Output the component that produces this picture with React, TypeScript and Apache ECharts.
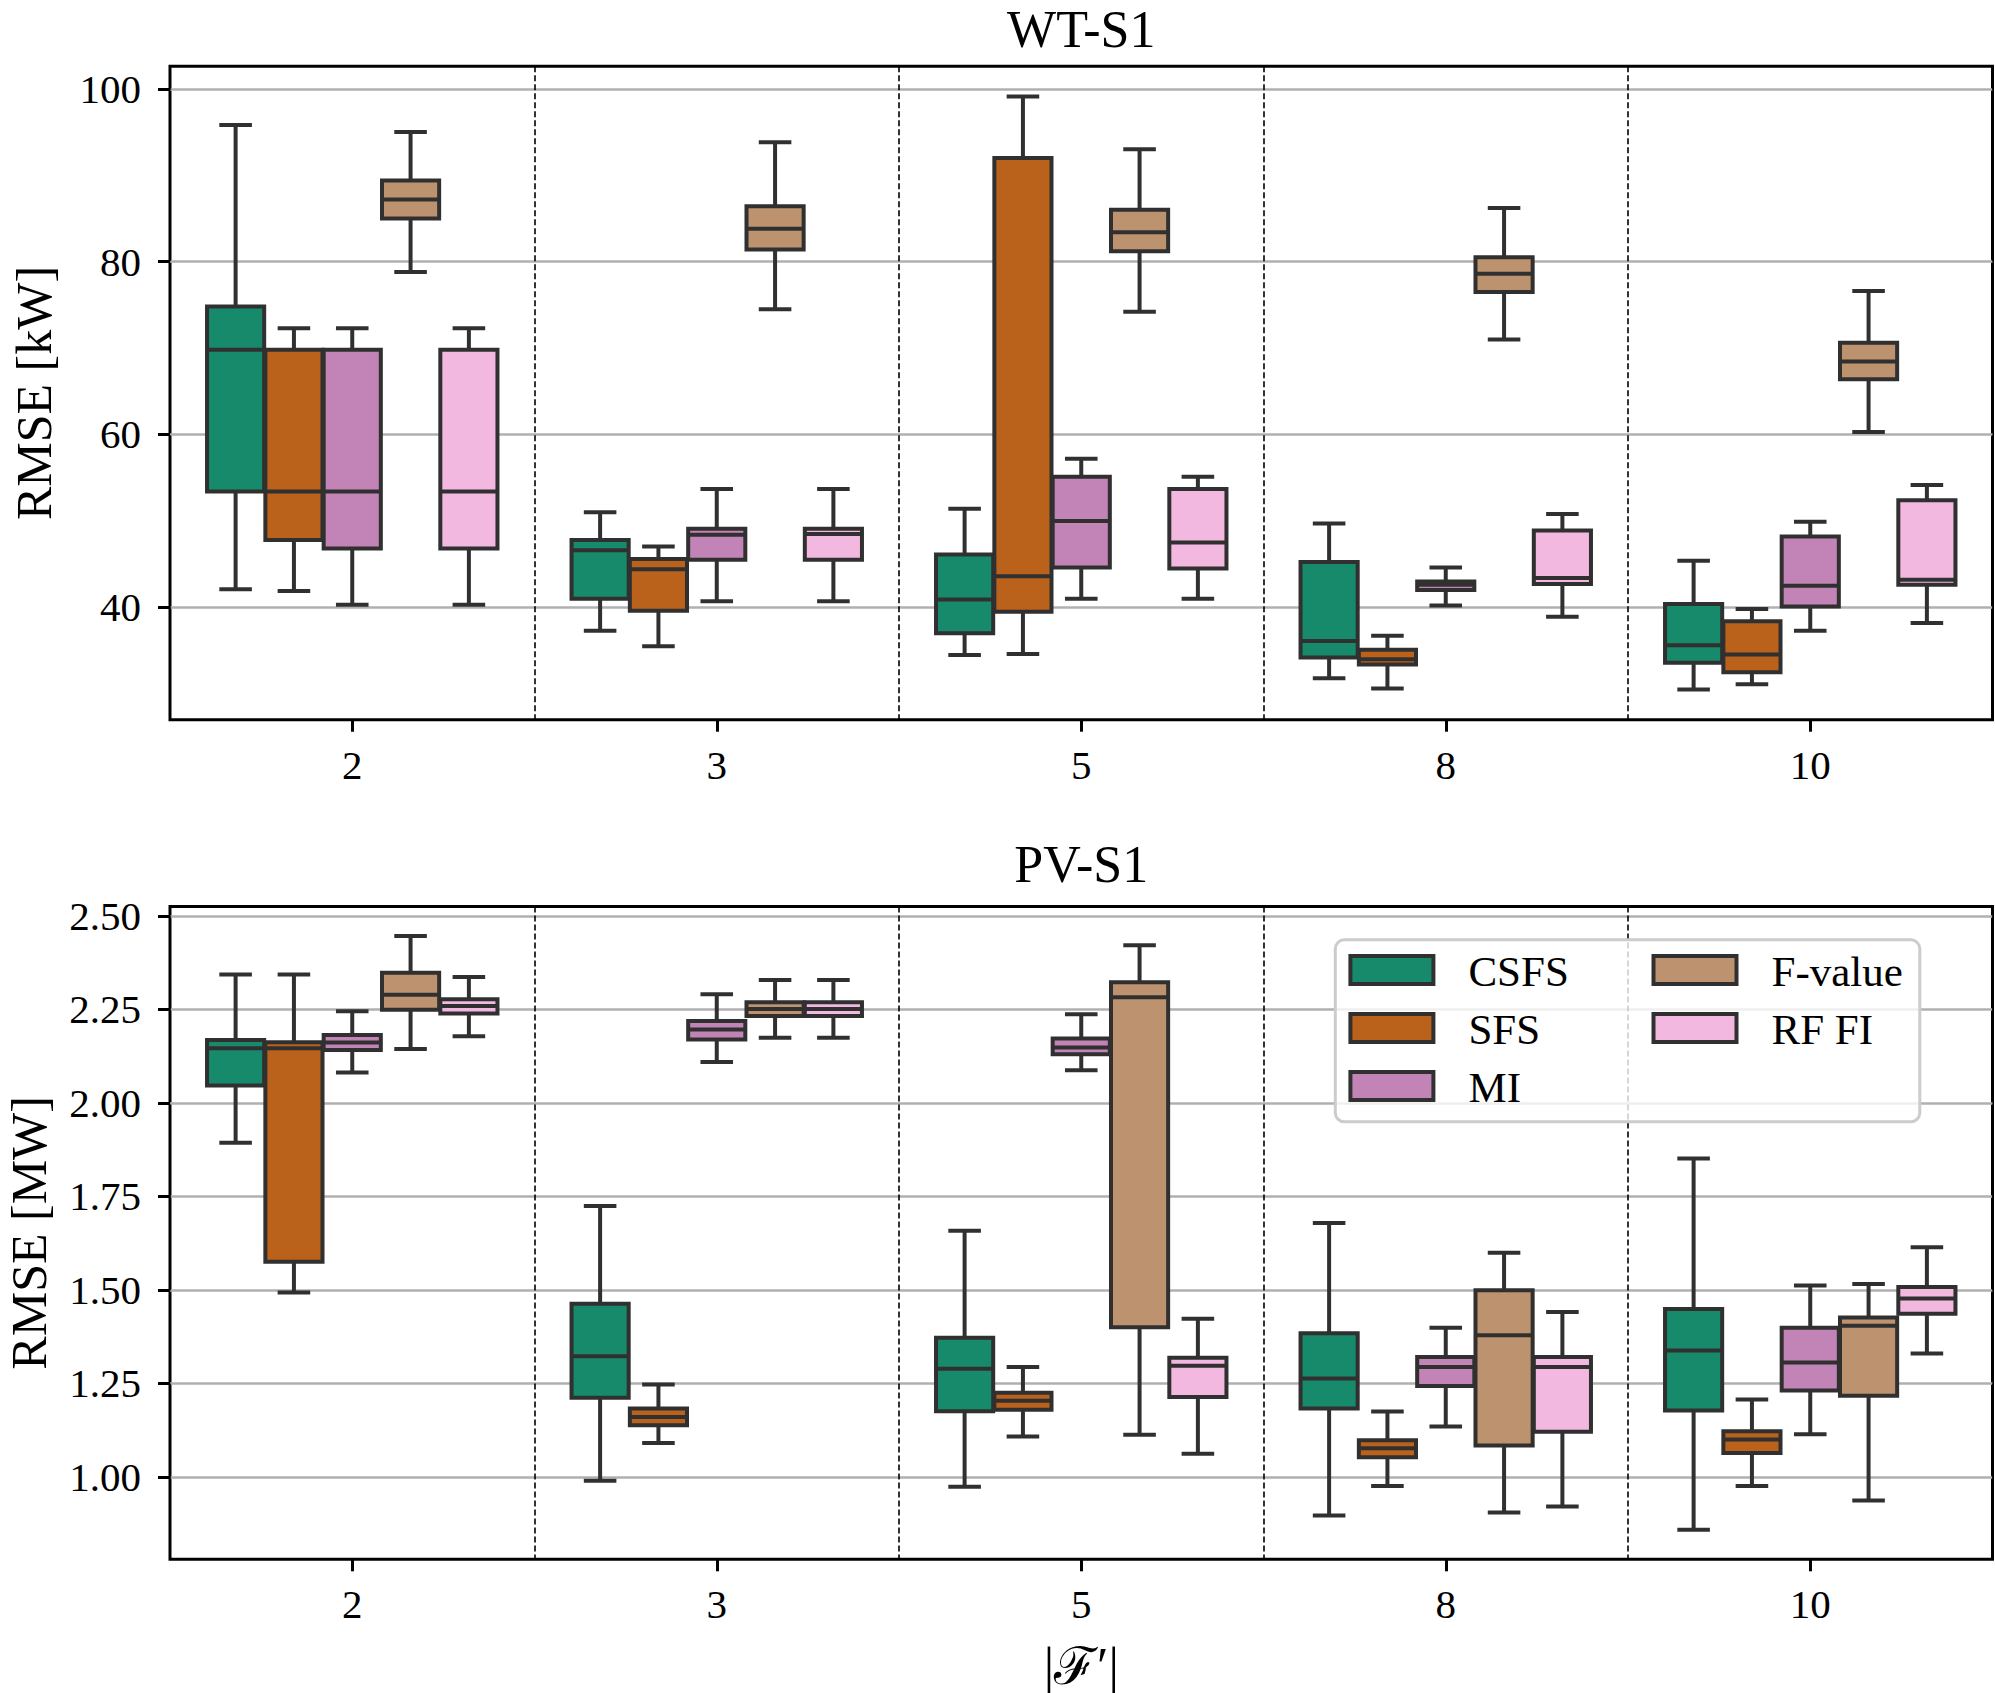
import React, { useEffect, useRef } from "react";
import * as echarts from "echarts";

// Number of selected features |F'|
const CATEGORIES = ["2", "3", "5", "8", "10"];
const METHODS = ["CSFS", "SFS", "MI", "F-value", "RF FI"];

// Box statistics per category: [min, Q1, median, Q3, max]
// WT-S1, RMSE in kW
const WT_CSFS = [
  [42.1, 53.4, 69.8, 74.8, 95.8],
  [37.3, 41.0, 46.6, 47.8, 51.0],
  [34.5, 37.0, 40.9, 46.1, 51.4],
  [31.8, 34.2, 36.1, 45.25, 49.7],
  [30.5, 33.6, 35.6, 40.4, 45.4],
];
const WT_SFS = [
  [41.9, 47.8, 53.4, 69.8, 72.3],
  [35.5, 39.6, 44.4, 45.6, 47.05],
  [34.6, 39.5, 43.6, 92.0, 99.1],
  [30.6, 33.4, 34.0, 35.1, 36.7],
  [31.1, 32.5, 34.55, 38.4, 39.8],
];
const WT_MI = [
  [40.3, 46.8, 53.4, 69.8, 72.3],
  [40.7, 45.5, 48.4, 49.1, 53.7],
  [41.0, 44.6, 50.0, 55.1, 57.2],
  [40.2, 42.0, 42.6, 43.0, 44.6],
  [37.3, 40.1, 42.5, 48.2, 49.9],
];
const WT_FVALUE = [
  [78.8, 85.0, 87.2, 89.4, 95.0],
  [74.5, 81.4, 83.8, 86.4, 93.8],
  [74.2, 81.2, 83.4, 86.0, 93.0],
  [71.0, 76.5, 78.6, 80.5, 86.2],
  [60.3, 66.4, 68.45, 70.6, 76.6],
];
const WT_RFFI = [
  [40.3, 46.8, 53.4, 69.8, 72.3],
  [40.7, 45.5, 48.5, 49.1, 53.7],
  [41.0, 44.5, 47.5, 53.7, 55.1],
  [38.9, 42.7, 43.4, 48.9, 50.8],
  [38.2, 42.6, 43.2, 52.4, 54.15],
];

// PV-S1, RMSE in MW
const PV_CSFS = [
  [1.893, 2.046, 2.146, 2.168, 2.343],
  [0.99, 1.212, 1.323, 1.463, 1.724],
  [0.974, 1.176, 1.289, 1.372, 1.658],
  [0.897, 1.183, 1.263, 1.384, 1.679],
  [0.859, 1.178, 1.338, 1.449, 1.851],
];
const PV_SFS = [
  [1.493, 1.575, 2.146, 2.162, 2.343],
  [1.091, 1.138, 1.16, 1.183, 1.247],
  [1.108, 1.18, 1.204, 1.225, 1.294],
  [0.976, 1.053, 1.077, 1.098, 1.175],
  [0.976, 1.064, 1.1, 1.122, 1.207],
];
const PV_MI = [
  [2.081, 2.141, 2.161, 2.181, 2.245],
  [2.109, 2.169, 2.196, 2.219, 2.29],
  [2.087, 2.13, 2.148, 2.172, 2.237],
  [1.135, 1.243, 1.294, 1.321, 1.399],
  [1.114, 1.231, 1.306, 1.399, 1.512],
];
const PV_FVALUE = [
  [2.144, 2.249, 2.289, 2.348, 2.446],
  [2.174, 2.232, 2.251, 2.269, 2.328],
  [1.113, 1.4, 2.282, 2.322, 2.421],
  [0.905, 1.084, 1.379, 1.499, 1.599],
  [0.937, 1.217, 1.404, 1.426, 1.516],
];
const PV_RFFI = [
  [2.178, 2.239, 2.259, 2.277, 2.336],
  [2.174, 2.232, 2.251, 2.269, 2.328],
  [1.062, 1.214, 1.297, 1.319, 1.423],
  [0.921, 1.121, 1.294, 1.321, 1.441],
  [1.33, 1.436, 1.477, 1.508, 1.614],
];

const WT_TICKS = [40, 60, 80, 100];
const PV_TICKS = [1.0, 1.25, 1.5, 1.75, 2.0, 2.25, 2.5];

const PANELS = [
  {
    title: "WT-S1",
    yName: "RMSE [kW]",
    stats: [WT_CSFS, WT_SFS, WT_MI, WT_FVALUE, WT_RFFI],
    yMin: 27.0,
    yMax: 102.6,
    ticks: WT_TICKS,
    decimals: 0,
  },
  {
    title: "PV-S1",
    yName: "RMSE [MW]",
    stats: [PV_CSFS, PV_SFS, PV_MI, PV_FVALUE, PV_RFFI],
    yMin: 0.78,
    yMax: 2.525,
    ticks: PV_TICKS,
    decimals: 2,
  },
];

// Layout and styling
const W = 1995;
const H = 1693;
const FONT = "'Liberation Serif', 'DejaVu Serif', serif";
const COLORS = ["#168a6a", "#ba611b", "#c283b6", "#bd926e", "#f2b8e0"];
const EDGE = "#303030";
const LW = 4;
const GRID_LEFT = 170;
const GRID_WIDTH = 1822.5;
const LAYOUT = [
  { top: 66.3, height: 653.4, titleY: 29, yNameX: 34 },
  { top: 906.4, height: 652.9, titleY: 864, yNameX: 29 },
];

function makeRenderItem(hue: number) {
  const nHue = METHODS.length;
  return (params: any, api: any) => {
    const ci = api.value(0);
    const band = api.size([1, 0])[0];
    const slot = (band * 0.8) / nHue;
    const w = slot * 0.98;
    const med = api.coord([ci, api.value(3)]);
    const cx = med[0] + (hue - (nHue - 1) / 2) * slot;
    const yMin = api.coord([ci, api.value(1)])[1];
    const yQ1 = api.coord([ci, api.value(2)])[1];
    const yQ3 = api.coord([ci, api.value(4)])[1];
    const yMax = api.coord([ci, api.value(5)])[1];
    const capHalf = w / 4;
    const line = (x1: number, y1: number, x2: number, y2: number, cap = "butt") => ({
      type: "line",
      shape: { x1, y1, x2, y2 },
      style: { stroke: EDGE, lineWidth: LW, lineCap: cap },
    });
    return {
      type: "group",
      children: [
        line(cx, yQ3, cx, yMax),
        line(cx, yQ1, cx, yMin),
        line(cx - capHalf, yMax, cx + capHalf, yMax, "square"),
        line(cx - capHalf, yMin, cx + capHalf, yMin, "square"),
        {
          type: "rect",
          shape: { x: cx - w / 2, y: yQ3, width: w, height: yQ1 - yQ3 },
          style: { fill: COLORS[hue], stroke: EDGE, lineWidth: LW },
        },
        line(cx - w / 2, med[1], cx + w / 2, med[1]),
      ],
    };
  };
}

function buildOption() {
  const grids: any[] = [];
  const xAxes: any[] = [];
  const yAxes: any[] = [];
  const series: any[] = [];
  const graphics: any[] = [];

  PANELS.forEach((p, pi) => {
    const L = LAYOUT[pi];
    grids.push({
      left: GRID_LEFT,
      top: L.top,
      width: GRID_WIDTH,
      height: L.height,
      show: true,
      borderColor: "#000",
      borderWidth: 3,
      backgroundColor: "transparent",
      containLabel: false,
      outerBoundsMode: "none",
    });
    xAxes.push({
      type: "category",
      gridIndex: pi,
      data: CATEGORIES,
      boundaryGap: true,
      axisLine: { show: false },
      axisTick: {
        show: true,
        alignWithLabel: true,
        length: 12,
        lineStyle: { color: "#000", width: 3 },
      },
      axisLabel: {
        show: true,
        interval: 0,
        margin: 45,
        verticalAlign: "middle",
        fontSize: 41,
        fontFamily: FONT,
        color: "#000",
      },
      splitLine: {
        show: true,
        interval: 0,
        lineStyle: { color: "#000", width: 1.6, type: [6, 3] },
      },
    });
    yAxes.push({
      type: "value",
      gridIndex: pi,
      min: p.yMin,
      max: p.yMax,
      axisLine: { show: false },
      axisTick: {
        show: true,
        length: 12,
        customValues: p.ticks,
        lineStyle: { color: "#000", width: 3 },
      },
      axisLabel: {
        show: true,
        margin: 29,
        customValues: p.ticks,
        fontSize: 41,
        fontFamily: FONT,
        color: "#000",
        formatter: (v: number) => v.toFixed(p.decimals),
      },
      splitLine: {
        show: true,
        lineStyle: { color: "#b0b0b0", width: 2.6 },
      },
    });
    p.stats.forEach((stats, hi) => {
      series.push({
        type: "custom",
        name: METHODS[hi],
        xAxisIndex: pi,
        yAxisIndex: pi,
        z: 3 + hi,
        renderItem: makeRenderItem(hi),
        encode: { x: 0, y: [1, 2, 3, 4, 5] },
        data: stats.map((s, ci) => [ci, ...s]),
      });
    });

    graphics.push({
      type: "text",
      x: GRID_LEFT + GRID_WIDTH / 2,
      y: L.titleY,
      z: 30,
      style: {
        text: p.title,
        fontSize: 52,
        lineHeight: 44,
        fontFamily: FONT,
        fill: "#000",
        align: "center",
        verticalAlign: "middle",
      },
    });
    graphics.push({
      type: "text",
      x: L.yNameX,
      y: L.top + L.height / 2,
      rotation: Math.PI / 2,
      z: 30,
      style: {
        text: p.yName,
        fontSize: 50,
        lineHeight: 44,
        fontFamily: FONT,
        fill: "#000",
        align: "center",
        verticalAlign: "middle",
      },
    });
  });

  // x-axis title below the lower panel
  graphics.push({
    type: "text",
    x: GRID_LEFT + GRID_WIDTH / 2,
    y: 1666,
    z: 30,
    style: {
      text: "|ℱ′|",
      fontSize: 52,
      lineHeight: 44,
      fontFamily: FONT,
      fill: "#000",
      align: "center",
      verticalAlign: "middle",
    },
  });

  // Legend inside the lower panel, two columns (3 + 2 entries)
  const LEG = { x: 1335.3, y: 939.8, w: 584.5, h: 182, colX: [1350.4, 1653.5], rowY: [970, 1028, 1086] };
  graphics.push({
    type: "rect",
    z: 40,
    shape: { x: LEG.x, y: LEG.y, width: LEG.w, height: LEG.h, r: 9 },
    style: { fill: "rgba(255,255,255,0.8)", stroke: "#cccccc", lineWidth: 3 },
  });
  METHODS.forEach((m, i) => {
    const col = Math.floor(i / 3);
    const row = i % 3;
    const px = LEG.colX[col];
    const py = LEG.rowY[row];
    graphics.push({
      type: "rect",
      z: 41,
      shape: { x: px, y: py - 14, width: 83, height: 28 },
      style: { fill: COLORS[i], stroke: EDGE, lineWidth: LW },
    });
    graphics.push({
      type: "text",
      z: 41,
      x: px + 118,
      y: py + 1,
      style: {
        text: m,
        fontSize: 43,
        fontFamily: FONT,
        fill: "#000",
        align: "left",
        verticalAlign: "middle",
      },
    });
  });

  return {
    animation: false,
    backgroundColor: "#ffffff",
    grid: grids,
    xAxis: xAxes,
    yAxis: yAxes,
    series,
    graphic: { elements: graphics },
  };
}

export default function App() {
  const ref = useRef<HTMLDivElement>(null);
  useEffect(() => {
    if (!ref.current) return;
    const chart = echarts.init(ref.current, undefined, { renderer: "svg", width: W, height: H });
    chart.setOption(buildOption() as any);
    return () => chart.dispose();
  }, []);
  return (
    <div
      ref={ref}
      style={{ position: "absolute", left: 0, top: 0, width: W, height: H, background: "#fff" }}
    />
  );
}
